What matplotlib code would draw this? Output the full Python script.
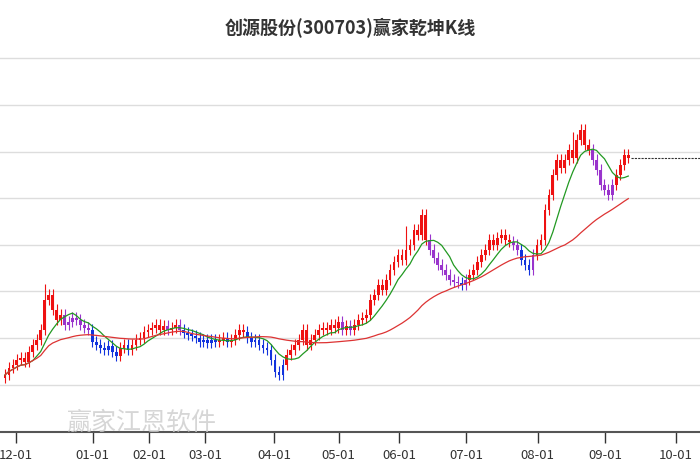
import matplotlib
matplotlib.use("Agg")
import matplotlib.pyplot as plt
import numpy as np

plt.rcParams['font.family'] = ['Noto Sans CJK SC', 'DejaVu Sans']

closes = [12.5,13.2,13.5,14.0,14.2,13.8,
          14.8,15.5,16.0,17.0,20.0,
          20.5,19.0,18.0,18.5,17.5,
          17.8,18.2,18.0,17.5,17.2,17.0,
          15.8,15.5,15.2,15.0,15.4,14.8,
          14.4,15.2,15.5,15.0,15.5,16.0,
          16.2,16.8,17.0,17.2,17.5,17.0,
          17.4,17.0,17.2,17.5,17.0,16.7,
          16.5,16.4,16.2,15.8,16.0,15.7,
          16.0,15.8,16.0,16.2,15.8,16.0,
          16.5,17.0,16.8,16.2,15.8,16.0,
          15.5,15.2,15.0,14.0,12.8,12.5,
          13.5,14.5,15.0,15.5,16.0,17.0,
          15.5,16.0,16.5,17.0,17.2,17.0,
          17.5,17.2,17.8,17.0,17.4,17.0,
          17.5,18.0,18.2,18.5,20.0,20.5,
          21.5,21.0,22.0,23.0,23.8,24.5,
          24.0,25.0,25.5,27.0,26.5,28.5,
          26.0,25.0,24.2,23.5,23.0,22.5,
          22.0,21.8,21.7,21.5,22.0,22.5,
          23.0,23.8,24.5,25.0,26.0,25.5,
          26.2,26.5,26.0,25.8,25.5,25.0,
          24.0,23.5,23.0,24.5,25.5,26.0,
          29.0,30.5,32.5,34.0,33.2,34.0,
          35.0,34.2,36.0,37.0,35.5,35.0,
          34.0,33.0,31.5,31.0,30.5,31.5,
          32.5,33.5,34.5,34.2]
# tick positions in pixel-equivalent units of the reference
tick_px = [13, 90, 147, 203, 272, 337, 398, 465, 537, 605, 676]
tick_labels = ['12-01','01-01','02-01','03-01','04-01','05-01','06-01','07-01','08-01','09-01','10-01']
grid_levels = [44.2, 39.5, 34.8, 30.2, 25.5, 20.9, 16.2, 11.5]

c = np.array(closes)
n = len(c)
x = np.linspace(2, 628, n)
step = x[1] - x[0]
o = np.concatenate([[c[0] - 0.3], c[:-1]])
hi = np.maximum(o, c) + 0.6
lo = np.minimum(o, c) - 0.5
hi[10] += 1.0; hi[101] += 1.8; hi[143] += 1.2

def ma(a, w):
    out = np.full(len(a), np.nan)
    for i in range(len(a)):
        s = max(0, i - w + 1)
        out[i] = a[s:i + 1].mean()
    return out
ma_s = ma(c, 8)
ma_l = ma(c, 36)

fig = plt.figure(figsize=(7, 4.7), dpi=100)
ax = fig.add_axes([0, 0.081, 1.0, 0.823])
for g in grid_levels:
    ax.axhline(g, color='#dddddd', lw=1, zorder=0)
for i in range(n):
    if c[i] >= ma_s[i]:
        col = '#ee1111'
    elif c[i] >= ma_l[i]:
        col = '#9933cc'
    else:
        col = '#1133dd'
    ax.vlines(x[i], lo[i], hi[i], color=col, lw=0.8, zorder=2)
    ax.bar(x[i], max(abs(c[i] - o[i]), 0.15), bottom=min(o[i], c[i]), width=step * 0.7, color=col, zorder=3)
ax.plot(x, ma_s, color='#229922', lw=0.9, zorder=4)
ax.plot(x, ma_l, color='#dd3333', lw=0.9, zorder=4)
ax.plot([x[-1] + 3, 700], [c[-1], c[-1]], color='#333333', lw=0.8, ls=(0, (2, 1)), zorder=4)

ax.set_xlim(-3, 700)
ax.set_ylim(50 - 432 / 10, 50 - 45 / 10)
ax.set_yticks([])
ax.set_xticks(tick_px)
ax.set_xticklabels(tick_labels, fontsize=9.5, color='#333333')
ax.tick_params(axis='x', length=8, width=1, color='#333333', pad=4)
for s in ['top', 'left', 'right']:
    ax.spines[s].set_visible(False)
ax.spines['bottom'].set_color('#555555')
ax.spines['bottom'].set_linewidth(1.5)

fig.text(0.5, 0.94, '创源股份(300703)赢家乾坤K线', ha='center', va='center', fontsize=13, fontweight='bold', color='#333333')
fig.text(0.095, 0.085, '赢家江恩软件', fontsize=18, color='#cccccc', alpha=0.8)
fig.savefig('out.png', dpi=100)
